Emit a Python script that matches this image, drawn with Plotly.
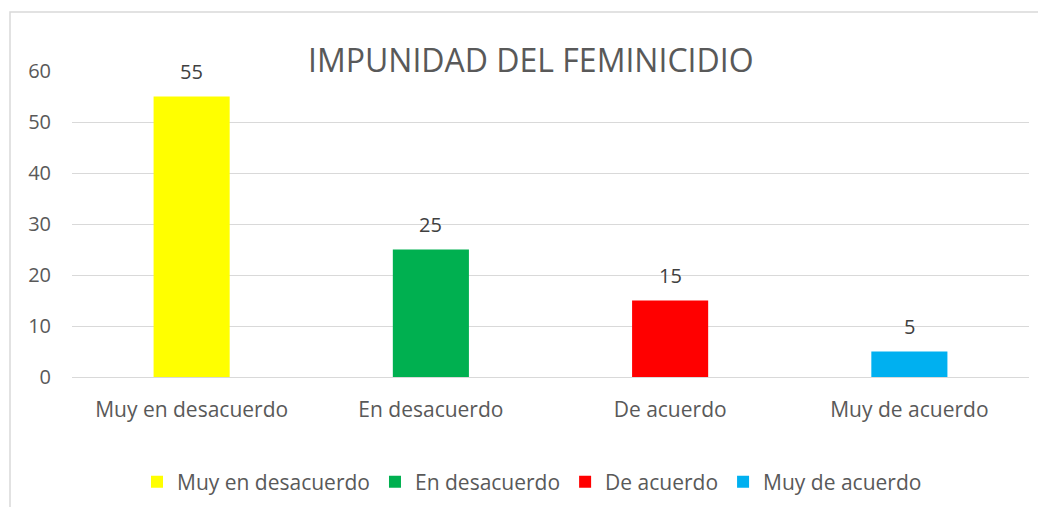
import plotly.graph_objects as go

categories = ["Muy en desacuerdo", "En desacuerdo", "De acuerdo", "Muy de acuerdo"]
values = [55, 25, 15, 5]
colors = ["#FFFF00", "#00B050", "#FF0000", "#00B0F0"]
y_ticks = [0, 10, 20, 30, 40, 50, 60]
title_text = "IMPUNIDAD DEL FEMINICIDIO"

FONT = "Open Sans"
GRAY = "#595959"

# page body has an 8px margin; compensate
W, H = 1030, 499
L, T = 64, 63
PLOT_R, PLOT_B = 1021, 369
PW, PH = PLOT_R - L, PLOT_B - T

fig = go.Figure()
for cat, val, col in zip(categories, values, colors):
    fig.add_trace(go.Bar(
        x=[cat], y=[val], name=cat, marker=dict(color=col, line=dict(width=0)),
        hoverinfo="x+y",
    ))

annotations = []
for cat, val in zip(categories, values):
    annotations.append(dict(
        x=cat, y=val, xref="x", yref="y", text=str(val), showarrow=False,
        yanchor="bottom", yshift=10, font=dict(family=FONT, size=20, color="#404040"),
    ))
annotations.append(dict(
    x=(531 - 72) / 957, y=1.0, xref="paper", yref="paper", text=title_text, showarrow=False,
    xanchor="center", yanchor="bottom", yshift=-12,
    font=dict(family=FONT, size=32, color=GRAY),
))

fig.update_layout(
    width=W, height=H,
    margin=dict(l=L, r=W - PLOT_R, t=T, b=H - PLOT_B, autoexpand=False),
    paper_bgcolor="white", plot_bgcolor="white",
    barmode="overlay", bargap=0.682,
    showlegend=True,
    legend=dict(orientation="h", x=(532 - 72) / 957, xanchor="center", y=-105 / PH, yanchor="middle",
                font=dict(family=FONT, size=21, color=GRAY), itemwidth=30,
                traceorder="normal"),
    annotations=annotations,
    xaxis=dict(
        type="category", categoryorder="array", categoryarray=categories,
        showgrid=False, showline=False, ticks="",
        tickfont=dict(family=FONT, size=21, color=GRAY), ticklabelstandoff=18,
    ),
    yaxis=dict(
        range=[0, 60], tickvals=y_ticks, showgrid=True, gridcolor="#D9D9D9", gridwidth=1,
        zeroline=True, zerolinecolor="#D9D9D9", zerolinewidth=1, showline=False, ticks="",
        tickfont=dict(family=FONT, size=20, color=GRAY), ticklabelstandoff=20,
    ),
    shapes=[dict(type="rect", xref="paper", yref="paper",
                 x0=(2 - L) / PW, x1=1.2, y0=-1.0, y1=(PLOT_B - 4) / PH,
                 line=dict(color="#D9D9D9", width=1.5), fillcolor="rgba(0,0,0,0)", layer="below")],
)

fig.write_html("out.html")
